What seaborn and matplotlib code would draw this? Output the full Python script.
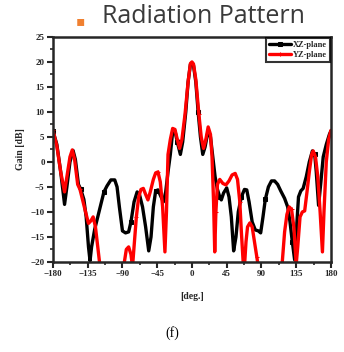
import numpy as np
import pandas as pd
import matplotlib
matplotlib.use("Agg")
import matplotlib.pyplot as plt
import seaborn as sns
from matplotlib.ticker import MultipleLocator

# ----------------------------------------------------------
# DATA
# ----------------------------------------------------------
xz_deg = [-180, -175, -170, -165, -162, -158, -154, -151, -147, -144, -140, -137, -134, -132,
          -130, -126, -122, -118, -114, -110, -105, -100, -97, -94, -90, -86, -82, -79, -75,
          -71, -68, -64, -60, -56, -53, -50, -47, -44, -40, -37, -34, -31, -28, -25, -22, -19,
          -15, -12, -8, -5, -2, 0, 2, 5, 8, 11, 14, 17, 21, 24, 27, 30, 33, 36, 38, 41, 45, 48,
          51, 54, 57, 60, 64, 68, 71, 74, 78, 82, 86, 89, 92, 95, 99, 103, 107, 111, 115, 120,
          124, 127, 130, 133, 136, 138, 141, 144, 148, 152, 156, 159, 161, 164, 167, 170, 174,
          178, 180]
xz_gain = [6.2, 3.5, -2, -8.5, -5, 0, 2.3, 0.5, -4.5, -5.5, -7.5, -11, -17, -19.8,
           -17, -13.5, -11, -8.5, -6, -4.8, -3.6, -3.6, -5, -9, -13.8, -14.2, -14, -12, -8,
           -6, -6.5, -9, -13, -17.8, -15, -9, -5.8, -5.6, -7, -8, -6, -2, 1.5, 6, 6.2, 4,
           1.5, 4, 10, 16, 19.5, 19.8, 19.3, 16, 10, 5, 1.5, 3, 6.3, 5, 1, -3, -5.5, -7, -7.6,
           -6.2, -5.2, -7, -11, -17.8, -15, -10, -7, -5.5, -5.6, -8, -12, -13.6, -13.8, -14.2,
           -11, -7.5, -5, -3.8, -3.8, -4.5, -5.8, -7.3, -9, -12, -16, -19.6, -12, -7, -5.8,
           -5.3, -3, 0, 2.2, 1.5, -2, -8.7, -4, 1, 3.5, 5.5, 6.2]

yz_deg = [-180, -175, -170, -165, -162, -158, -155, -152, -148, -145, -141, -137, -134, -131,
          -128, -125, -122, -119, -115, -95, -90, -88, -85, -82, -79, -77, -75, -72, -69, -66,
          -63, -60, -57, -54, -50, -47, -44, -41, -38, -35, -33, -31, -28, -25, -22, -19, -16,
          -13, -9, -5, -2, 0, 2, 5, 9, 12, 15, 18, 21, 24, 26, 28, 29.5, 31, 33, 36, 40, 44, 48,
          52, 56, 59, 62, 64, 66.5, 68, 70, 72, 75, 78, 81, 84, 87, 90, 110, 114, 117, 120, 123,
          126, 129, 132, 135, 137, 140, 143, 146, 149, 152, 155, 157, 160, 163, 166, 169, 171,
          174, 177, 180]
yz_gain = [6.3, 3.2, -2, -6, -3, 1, 2.4, 0.5, -4.5, -5.5, -8, -10.5, -12.3, -11.8,
           -11, -13, -17, -21, -26, -26, -21, -20.5, -17.5, -17, -18.5, -21, -17, -11, -7, -5.5,
           -5.3, -6.5, -7.6, -6, -3.5, -2.2, -2, -4, -9, -18, -10, 1.5, 4.5, 6.7, 6.5, 4.5, 2.7,
           4.5, 9.5, 16, 19.7, 20, 19.6, 16.5, 9.5, 5, 2.7, 4.5, 7, 5.5, 1, -8, -18, -10, -4.5,
           -3.5, -4.3, -4.6, -3.8, -2.6, -2.3, -3.5, -8, -14, -20.5, -21, -16, -13, -12.2, -13,
           -16, -19, -22, -26, -26, -22, -20, -14, -10.5, -9, -9.5, -13, -20.5, -17, -11, -10,
           -9.8, -6, -2, 1.5, 2.2, 1, -3, -10, -18, -10, 0, 4.5, 6.3]

x_ticks = [-180, -135, -90, -45, 0, 45, 90, 135, 180]
y_ticks = [-20, -15, -10, -5, 0, 5, 10, 15, 20, 25]

xz_df = pd.DataFrame({"deg": xz_deg, "gain": xz_gain})
yz_df = pd.DataFrame({"deg": yz_deg, "gain": yz_gain})

# ----------------------------------------------------------
# PLOT
# ----------------------------------------------------------
sns.set_style("ticks")
plt.rcParams["font.family"] = ["Liberation Serif", "DejaVu Serif"]

fig = plt.figure(figsize=(3.44, 3.52), dpi=100)
ax = fig.add_axes([0.154, 0.256, 0.808, 0.639])

sns.lineplot(data=xz_df, x="deg", y="gain", ax=ax, sort=False, color="black",
             linewidth=2.4, marker="s", markersize=3.5, markevery=9,
             markeredgecolor="black", label="XZ-plane")
sns.lineplot(data=yz_df, x="deg", y="gain", ax=ax, sort=False, color="#ff0000",
             linewidth=2.4, marker="+", markersize=3.5, markevery=9,
             markeredgecolor="#ff0000", label="YZ-plane")

ax.set_xlim(-180, 180)
ax.set_ylim(-20, 25)
ax.set_xticks(x_ticks)
ax.set_yticks(y_ticks)
ax.xaxis.set_minor_locator(MultipleLocator(22.5))
ax.yaxis.set_minor_locator(MultipleLocator(2.5))
ax.tick_params(which="major", length=4, width=1.5, labelsize=6.5, pad=2)
ax.tick_params(which="minor", length=2.5, width=1.2)
for lab in ax.get_xticklabels() + ax.get_yticklabels():
    lab.set_fontweight("bold")
for sp in ax.spines.values():
    sp.set_visible(True)
    sp.set_linewidth(1.8)

ax.set_xlabel("[deg.]", fontsize=7, fontweight="bold", labelpad=10)
ax.set_ylabel("Gain [dB]", fontsize=7, fontweight="bold", labelpad=4)

leg = ax.legend(loc="upper right", fontsize=6, frameon=True, fancybox=False,
                borderpad=0.35, handlelength=2.6, labelspacing=0.25, borderaxespad=0.1,
                handletextpad=0.3)
leg.get_frame().set_edgecolor("black")
leg.get_frame().set_linewidth(1.5)
for t in leg.get_texts():
    t.set_fontweight("bold")

fig.text(0.59, 0.952, "Radiation Pattern", ha="center", va="center",
         fontsize=18, color="#3a3a3a", family=["Open Sans", "DejaVu Sans"])
fig.text(0.233, 0.94, "\u25aa", ha="center", va="center", fontsize=10,
         color="#f08030", family=["DejaVu Sans"])
fig.text(0.5, 0.054, "(f)", ha="center", va="center", fontsize=10, color="black")

fig.savefig("out.png", dpi=100)
